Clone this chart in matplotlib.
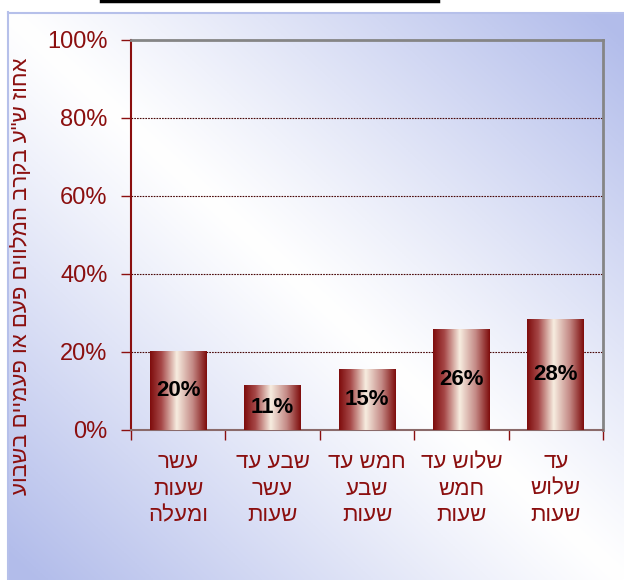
import matplotlib
matplotlib.use('Agg')
import matplotlib.pyplot as plt
import numpy as np
from matplotlib.colors import LinearSegmentedColormap

plt.rcParams['font.family'] = ['Liberation Sans', 'DejaVu Sans']

categories = ['עשר\nשעות\nומעלה', 'שבע עד\nעשר\nשעות', 'חמש עד\nשבע\nשעות',
              'שלוש עד\nחמש\nשעות', 'עד\nשלוש\nשעות']
values = [20.1, 11.3, 15.5, 25.8, 28.3]
labels = ['20%', '11%', '15%', '26%', '28%']
yticks = [0, 20, 40, 60, 80, 100]
ylabel = 'אחוז ש"ע בקרב המלווים פעם או פעמיים בשבוע'

DARK = '#8b0f0f'


def rtl(s):
    # matplotlib has no bidi support, so flip each line to visual order
    return '\n'.join(line[::-1] for line in s.split('\n'))


W, H = 624, 580
fig = plt.figure(figsize=(W / 100, H / 100), dpi=100)
fig.patch.set_facecolor('white')

# background panel with diagonal blue/white gradient
bg = fig.add_axes([7 / W, 0, 1 - 7 / W, (H - 12) / H], zorder=-10)
u, v = np.meshgrid(np.linspace(0, 1, 300), np.linspace(0, 1, 300))
t = np.clip(np.abs(u - v) * 1.05, 0, 1) ** 1.1
white = np.array([1.0, 1.0, 1.0])
blue = np.array([0.70, 0.74, 0.92])
img = white[None, None, :] * (1 - t[..., None]) + blue[None, None, :] * t[..., None]
bg.imshow(img, aspect='auto', extent=[0, 1, 1, 0])
bg.set_xlim(0, 1)
bg.set_ylim(1, 0)
bg.axis('off')
fig.add_artist(plt.Line2D([7.5 / W, 7.5 / W], [0, (H - 12) / H], color='#b6c0ea', lw=1.5))
fig.add_artist(plt.Line2D([7.5 / W, 1], [(H - 12.5) / H, (H - 12.5) / H], color='#b6c0ea', lw=1.5))

# black line at the very top
fig.add_artist(plt.Line2D([101 / W, 438 / W], [1 - 1 / H, 1 - 1 / H], color='black', lw=2.5))

ax = fig.add_axes([131 / W, 150 / H, 472 / W, 390 / H])
ax.patch.set_alpha(0)

x = np.arange(len(values))
bars = ax.bar(x, values, width=0.6, color='none', zorder=3)

cmap = LinearSegmentedColormap.from_list(
    'barg', [(0, '#7e0c0c'), (0.2, '#a64848'), (0.47, '#f7ede0'), (0.75, '#c48a86'), (1, '#7e0c0c')])
grad = np.linspace(0, 1, 256)[None, :]
for b, lab in zip(bars, labels):
    x0, y0 = b.get_x(), b.get_y()
    w, h = b.get_width(), b.get_height()
    ax.imshow(grad, cmap=cmap, aspect='auto', extent=[x0, x0 + w, y0, y0 + h], zorder=3)
    ax.text(x0 + w / 2, y0 + h / 2, lab, ha='center', va='center', fontsize=16,
            fontweight='bold', color='black', zorder=5)

ax.set_xlim(-0.5, len(values) - 0.5)
ax.set_ylim(0, 100)

ax.set_yticks(yticks)
ax.set_yticklabels([f'{v}%' for v in yticks])
ax.tick_params(axis='y', direction='out', length=7, width=1, color=DARK, labelcolor=DARK,
               labelsize=17, pad=10)

ax.set_xticks(x)
ax.set_xticklabels([rtl(c) for c in categories], linespacing=1.35)
ax.tick_params(axis='x', which='major', length=0, labelcolor=DARK, labelsize=16, pad=16)
ax.set_xticks(np.arange(len(values) + 1) - 0.5, minor=True)
ax.tick_params(axis='x', which='minor', direction='out', length=7, width=1, color=DARK)

for yv in yticks[1:-1]:
    ax.axhline(yv, color='#4a0808', lw=0.8, ls=(0, (1.5, 1)), zorder=1)

ax.spines['left'].set_color(DARK)
ax.spines['left'].set_linewidth(1.5)
for s in ['top', 'right']:
    ax.spines[s].set_color('#858585')
    ax.spines[s].set_linewidth(2)
ax.spines['bottom'].set_color('#8a6a6a')
ax.spines['bottom'].set_linewidth(1.5)

ax.set_ylabel(rtl(ylabel), color=DARK, fontsize=16)
ax.yaxis.set_label_coords(-0.21, 0.395)

fig.savefig('out.png', dpi=100)
